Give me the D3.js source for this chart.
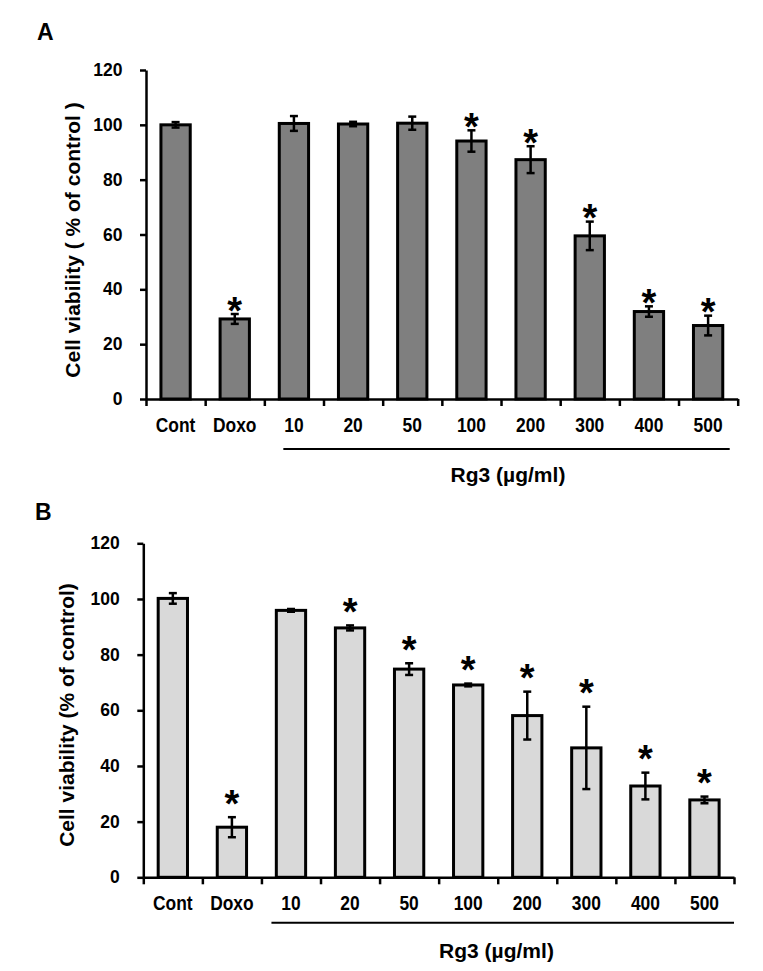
<!DOCTYPE html>
<html>
<head>
<meta charset="utf-8">
<script src="https://cdn.jsdelivr.net/npm/d3@7"></script>
<style>
  html, body { margin: 0; padding: 0; background: #fff; }
  svg { display: block; }
  text { font-family: "Liberation Sans", Arial, sans-serif; font-weight: bold; fill: #000; }
</style>
</head>
<body>
<svg id="chart" width="763" height="971"></svg>
<script>
// ---- data ----
const categories = ["Cont", "Doxo", "10", "20", "50", "100", "200", "300", "400", "500"];
const yTicks = [0, 20, 40, 60, 80, 100, 120];

const viabilityA = [100.0, 29.2, 100.5, 100.3, 100.6, 94.1, 87.3, 59.5, 31.9, 26.8];
const errorA     = [1.0, 1.8, 2.7, 0.8, 2.4, 3.9, 4.9, 5.2, 1.9, 3.6];
const signifA    = [false, true, false, false, false, true, true, true, true, true];

const viabilityB = [100.2, 18.0, 95.9, 89.6, 74.8, 69.1, 58.1, 46.5, 32.8, 27.8];
const errorB     = [1.9, 3.6, 0.5, 0.9, 2.1, 0.5, 8.6, 14.8, 4.8, 1.2];
const signifB    = [false, true, false, true, true, true, true, true, true, true];

const panelLetters = ["A", "B"];
const yTitles = ["Cell viability ( % of control )", "Cell viability (% of control)"];
const groupLabel = "Rg3 (\u00b5g/ml)";

// ---- drawing ----
const svg = d3.select("#chart");

function drawPanel(p) {
  const g = svg.append("g");
  const x = d3.scaleBand().domain(categories).range([p.x0, p.x1]).paddingInner(0).paddingOuter(0);
  const xb = d3.scaleLinear().domain([0, categories.length]).range([p.x0, p.x1]);
  const y = d3.scaleLinear().domain([0, 120]).range([p.yBottom, p.yTop]);

  // panel letter
  g.append("text").attr("x", p.letterX).attr("y", p.letterY)
    .style("font-size", "23px").text(p.letter);

  // y axis
  const ya = g.append("g").attr("transform", `translate(${p.x0},0)`)
    .call(d3.axisLeft(y).tickValues(yTicks).tickSize(6).tickSizeOuter(0).tickPadding(17.5));
  ya.select(".domain").attr("stroke", "#000").attr("stroke-width", 2.5);
  ya.selectAll(".tick line").attr("stroke", "#000").attr("stroke-width", 2.5);
  ya.selectAll(".tick text").style("font-size", "17.5px")
    .style("font-family", '"Liberation Sans", Arial, sans-serif').style("font-weight", "bold");

  // y title
  g.append("text")
    .attr("transform", `translate(${p.titleX},${p.titleY}) rotate(-90)`)
    .attr("text-anchor", "middle")
    .style("font-size", "21px").text(p.yTitle);

  // bars
  const barW = 29.3;
  const cx = d => x(d) + x.bandwidth() / 2;
  g.selectAll("rect.bar").data(categories).join("rect").attr("class", "bar")
    .attr("x", d => cx(d) - barW / 2)
    .attr("y", (d, i) => y(p.values[i]))
    .attr("width", barW)
    .attr("height", (d, i) => y(0) - y(p.values[i]))
    .attr("fill", p.fill).attr("stroke", "#000").attr("stroke-width", 3);

  // error bars
  const capW = 8;
  const eb = g.selectAll("g.err").data(categories).join("g").attr("class", "err");
  eb.append("line")
    .attr("x1", d => cx(d)).attr("x2", d => cx(d))
    .attr("y1", (d, i) => y(p.values[i] - p.errors[i]))
    .attr("y2", (d, i) => y(p.values[i] + p.errors[i]))
    .attr("stroke", "#000").attr("stroke-width", 2.5);
  eb.append("line")
    .attr("x1", d => cx(d) - capW / 2).attr("x2", d => cx(d) + capW / 2)
    .attr("y1", (d, i) => y(p.values[i] + p.errors[i]))
    .attr("y2", (d, i) => y(p.values[i] + p.errors[i]))
    .attr("stroke", "#000").attr("stroke-width", 2.5);
  eb.append("line")
    .attr("x1", d => cx(d) - capW / 2).attr("x2", d => cx(d) + capW / 2)
    .attr("y1", (d, i) => y(p.values[i] - p.errors[i]))
    .attr("y2", (d, i) => y(p.values[i] - p.errors[i]))
    .attr("stroke", "#000").attr("stroke-width", 2.5);

  // significance asterisks
  const starSize = 38;
  g.selectAll("text.star").data(categories.filter((d, i) => p.signif[i])).join("text")
    .attr("class", "star")
    .attr("x", d => cx(d))
    .attr("y", d => {
      const i = categories.indexOf(d);
      const centerY = y(p.values[i] + p.errors[i]) - p.starGap;
      return centerY + 0.57 * starSize;
    })
    .attr("text-anchor", "middle")
    .style("font-size", starSize + "px").text("*");

  // x axis: boundary ticks
  const xa = g.append("g").attr("transform", `translate(0,${p.yBottom})`)
    .call(d3.axisBottom(xb).ticks(categories.length).tickFormat("").tickSize(7).tickSizeOuter(0));
  xa.select(".domain").attr("stroke", "#000").attr("stroke-width", 2.5);
  xa.selectAll(".tick line").attr("stroke", "#000").attr("stroke-width", 2.5);

  // x axis: category labels
  const xl = g.append("g").attr("transform", `translate(0,${p.yBottom})`)
    .call(d3.axisBottom(x).tickSize(0).tickPadding(19));
  xl.select(".domain").remove();
  xl.selectAll(".tick text").style("font-size", "20px")
    .style("font-family", '"Liberation Sans", Arial, sans-serif').style("font-weight", "bold")
    .attr("transform", "scale(0.87,1)");

  // bracket for Rg3 group
  g.append("line")
    .attr("x1", x("10") + p.bracketPadL).attr("x2", x("500") + x.bandwidth() - p.bracketPadR)
    .attr("y1", p.bracketY).attr("y2", p.bracketY)
    .attr("stroke", "#000").attr("stroke-width", 2);
  g.append("text").attr("x", p.groupX).attr("y", p.groupY)
    .attr("text-anchor", "middle").style("font-size", "21px").text(groupLabel);
}

drawPanel({
  letter: panelLetters[0], letterX: 37, letterY: 40,
  x0: 146, x1: 737.7, yTop: 70, yBottom: 399,
  titleX: 79.5, titleY: 240, yTitle: yTitles[0],
  values: viabilityA, errors: errorA, signif: signifA,
  fill: "#7f7f7f", starGap: 12,
  bracketPadL: 19, bracketPadR: 8, bracketY: 449,
  groupX: 508, groupY: 481.5
});

drawPanel({
  letter: panelLetters[1], letterX: 35, letterY: 520,
  x0: 143.3, x1: 734, yTop: 543.3, yBottom: 877.3,
  titleX: 74.2, titleY: 715, yTitle: yTitles[1],
  values: viabilityB, errors: errorB, signif: signifB,
  fill: "#d9d9d9", starGap: 22,
  bracketPadL: 10, bracketPadR: 0, bracketY: 922.7,
  groupX: 496.5, groupY: 958.3
});
</script>
</body>
</html>
